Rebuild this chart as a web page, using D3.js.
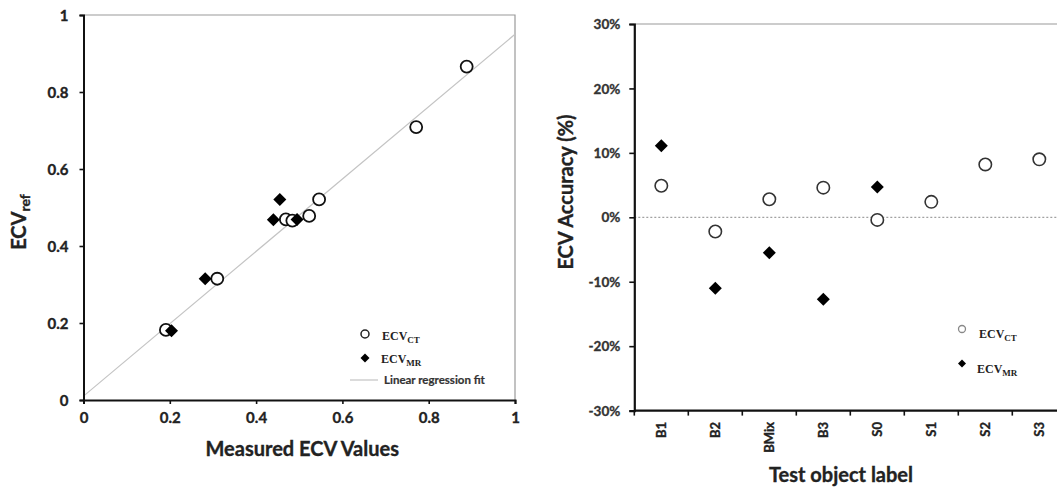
<!DOCTYPE html>
<html>
<head>
<meta charset="utf-8">
<script src="https://cdn.jsdelivr.net/npm/d3@7"></script>
<style>
  html, body { margin: 0; padding: 0; background: #fff; }
  svg { display: block; }
  .sans { font-family: Lato, "Open Sans", sans-serif; font-weight: bold; stroke: currentColor; stroke-width: 0.35px; }
  .serif { font-family: "Liberation Serif", "DejaVu Serif", serif; font-weight: bold; }
</style>
</head>
<body>
<svg id="chart" width="1057" height="488"></svg>
<script>
// ---- Left panel: reference ECV vs measured ECV ----
const ctMeasured = [0.191, 0.310, 0.469, 0.484, 0.523, 0.546, 0.771, 0.888];
const ctRef      = [0.182, 0.315, 0.469, 0.466, 0.478, 0.521, 0.709, 0.866];
const mrMeasured = [0.204, 0.282, 0.440, 0.455, 0.495];
const mrRef      = [0.180, 0.315, 0.468, 0.521, 0.469];
const fitIntercept = 0.01;
const fitSlope = 0.94;
const scatterTicks = [0, 0.2, 0.4, 0.6, 0.8, 1];

// ---- Right panel: accuracy per test object ----
const objectLabels = ["B1", "B2", "BMix", "B3", "S0", "S1", "S2", "S3"];
const ctAccuracy = [0.049, -0.022, 0.028, 0.046, -0.004, 0.024, 0.082, 0.090];
const mrAccuracy = [0.111, -0.110, -0.055, -0.127, 0.047, null, null, null];
const accuracyTicks = [-0.3, -0.2, -0.1, 0, 0.1, 0.2, 0.3];

const svg = d3.select("#chart");

function diamond(g, cx, cy, r, fill) {
  g.append("path")
    .attr("d", `M${cx},${cy - r}L${cx + r},${cy}L${cx},${cy + r}L${cx - r},${cy}Z`)
    .attr("fill", fill);
}

// ================= Left panel =================
{
  const x = d3.scaleLinear().domain([0, 1]).range([83.5, 515]);
  const y = d3.scaleLinear().domain([0, 1]).range([400, 15]);
  const g = svg.append("g");

  // plot frame (top and right edges)
  g.append("path")
    .attr("d", `M${x(0)},${y(1)}H${x(1)}V${y(0)}`)
    .attr("fill", "none").attr("stroke", "#9a9a9a").attr("stroke-width", 1.2);

  // regression line
  g.append("line")
    .attr("x1", x(0)).attr("y1", y(fitIntercept))
    .attr("x2", x(1)).attr("y2", y(fitIntercept + fitSlope))
    .attr("stroke", "#c4c4c4").attr("stroke-width", 1.2);

  // axes
  const xAxis = d3.axisBottom(x).tickValues(scatterTicks).tickSize(4).tickFormat(d3.format("~g"));
  const yAxis = d3.axisLeft(y).tickValues(scatterTicks).tickSize(4).tickFormat(d3.format("~g"));
  const gx = g.append("g").attr("transform", `translate(0,${y(0)})`).call(xAxis);
  const gy = g.append("g").attr("transform", `translate(${x(0)},0)`).call(yAxis);
  [gx, gy].forEach(a => {
    a.select(".domain").attr("stroke", "#111").attr("stroke-width", 2);
    a.selectAll(".tick line").attr("stroke", "#111").attr("stroke-width", 1.6);
    a.selectAll(".tick text").attr("class", "sans").attr("font-size", 15).attr("fill", "#222").style("color", "#222");
  });
  gx.selectAll(".tick text").attr("y", 12).attr("dy", "0.71em");
  gy.selectAll(".tick text").attr("x", -15).attr("dy", "0.34em");

  // points
  ctMeasured.forEach((m, i) => {
    g.append("circle").attr("cx", x(m)).attr("cy", y(ctRef[i])).attr("r", 6)
      .attr("fill", "#fff").attr("stroke", "#111").attr("stroke-width", 1.8);
  });
  mrMeasured.forEach((m, i) => diamond(g, x(m), y(mrRef[i]), 6.5, "#000"));

  // axis titles
  g.append("text").attr("class", "sans").attr("font-size", 20).attr("fill", "#222").style("color", "#222")
    .attr("x", (x(0) + x(1)) / 2 + 3).attr("y", 456).attr("text-anchor", "middle")
    .text("Measured ECV Values");
  const yt = g.append("text").attr("class", "sans").attr("fill", "#222").style("color", "#222")
    .attr("transform", "translate(26,222) rotate(-90)").attr("text-anchor", "middle");
  yt.append("tspan").attr("font-size", 20).text("ECV");
  yt.append("tspan").attr("font-size", 14).attr("dy", 4).text("ref");

  // legend
  g.append("circle").attr("cx", 365).attr("cy", 334).attr("r", 4)
    .attr("fill", "#fff").attr("stroke", "#222").attr("stroke-width", 1.5);
  const l1 = g.append("text").attr("class", "serif").attr("x", 382).attr("y", 340).attr("fill", "#222");
  l1.append("tspan").attr("font-size", 12).text("ECV");
  l1.append("tspan").attr("font-size", 9).attr("dy", 3).text("CT");
  diamond(g, 365, 358, 4.5, "#000");
  const l2 = g.append("text").attr("class", "serif").attr("x", 381).attr("y", 363).attr("fill", "#222");
  l2.append("tspan").attr("font-size", 12).text("ECV");
  l2.append("tspan").attr("font-size", 9).attr("dy", 3).text("MR");
  g.append("line").attr("x1", 350).attr("x2", 378).attr("y1", 380).attr("y2", 380)
    .attr("stroke", "#c4c4c4").attr("stroke-width", 1.2);
  g.append("text").attr("class", "sans").attr("font-size", 11.5).attr("fill", "#333").style("color", "#333")
    .style("stroke-width", "0.2px")
    .attr("x", 384).attr("y", 384).text("Linear regression fit");
}

// ================= Right panel =================
{
  const x = d3.scaleBand().domain(objectLabels).range([634.3, 634.3 + 54 * objectLabels.length]).padding(0);
  const y = d3.scaleLinear().domain([-0.3, 0.3]).range([410.6, 24]);
  const g = svg.append("g");

  // top frame edge
  g.append("line").attr("x1", x.range()[0]).attr("x2", x.range()[1])
    .attr("y1", y(0.3)).attr("y2", y(0.3)).attr("stroke", "#9a9a9a").attr("stroke-width", 1.2);

  // zero reference line
  g.append("line").attr("x1", x.range()[0]).attr("x2", x.range()[1])
    .attr("y1", y(0)).attr("y2", y(0))
    .attr("stroke", "#8a8a8a").attr("stroke-width", 1).attr("stroke-dasharray", "2,2");

  // y axis
  const gy = g.append("g").attr("transform", `translate(${x.range()[0]},0)`)
    .call(d3.axisLeft(y).tickValues(accuracyTicks).tickSize(5).tickFormat(d3.format(".0%")));
  gy.select(".domain").attr("stroke", "#111").attr("stroke-width", 2.2);
  gy.selectAll(".tick line").attr("stroke", "#111").attr("stroke-width", 1.6);
  gy.selectAll(".tick text").attr("class", "sans").attr("font-size", 13.5).attr("fill", "#333").style("color", "#333")
    .attr("x", -14).attr("dy", "0.34em")
    .text(d => (d < 0 ? "-" : "") + Math.round(Math.abs(d) * 100) + "%");

  // x axis: boundary ticks between categories
  g.append("line").attr("x1", x.range()[0]).attr("x2", x.range()[1])
    .attr("y1", y(-0.3)).attr("y2", y(-0.3)).attr("stroke", "#111").attr("stroke-width", 2.2);
  objectLabels.forEach(c => {
    g.append("line").attr("x1", x(c)).attr("x2", x(c))
      .attr("y1", y(-0.3)).attr("y2", y(-0.3) + 5).attr("stroke", "#111").attr("stroke-width", 1.6);
    g.append("text").attr("class", "sans").attr("font-size", 13).attr("fill", "#222").style("color", "#222")
      .attr("transform", `translate(${x(c) + x.bandwidth() / 2},422) rotate(-90)`)
      .attr("text-anchor", "end").attr("dy", "0.36em").text(c);
  });

  // points
  objectLabels.forEach((c, i) => {
    const cx = x(c) + x.bandwidth() / 2;
    if (ctAccuracy[i] != null)
      g.append("circle").attr("cx", cx).attr("cy", y(ctAccuracy[i])).attr("r", 6.2)
        .attr("fill", "#fff").attr("stroke", "#333").attr("stroke-width", 1.6);
  });
  objectLabels.forEach((c, i) => {
    const cx = x(c) + x.bandwidth() / 2;
    if (mrAccuracy[i] != null) diamond(g, cx, y(mrAccuracy[i]), 6.5, "#000");
  });

  // axis titles
  g.append("text").attr("class", "sans").attr("font-size", 20).attr("fill", "#222").style("color", "#222")
    .attr("x", 841).attr("y", 482).attr("text-anchor", "middle").text("Test object label");
  g.append("text").attr("class", "sans").attr("font-size", 20).attr("fill", "#222").style("color", "#222")
    .attr("transform", "translate(573,192) rotate(-90)").attr("text-anchor", "middle")
    .text("ECV Accuracy (%)");

  // legend
  g.append("circle").attr("cx", 962).attr("cy", 329).attr("r", 3.5)
    .attr("fill", "#fff").attr("stroke", "#888").attr("stroke-width", 1.3);
  const l1 = g.append("text").attr("class", "serif").attr("x", 979).attr("y", 338).attr("fill", "#222");
  l1.append("tspan").attr("font-size", 12).text("ECV");
  l1.append("tspan").attr("font-size", 9).attr("dy", 3).text("CT");
  diamond(g, 962, 363.5, 4, "#000");
  const l2 = g.append("text").attr("class", "serif").attr("x", 977).attr("y", 373).attr("fill", "#222");
  l2.append("tspan").attr("font-size", 12).text("ECV");
  l2.append("tspan").attr("font-size", 9).attr("dy", 3).text("MR");
}
</script>
</body>
</html>
